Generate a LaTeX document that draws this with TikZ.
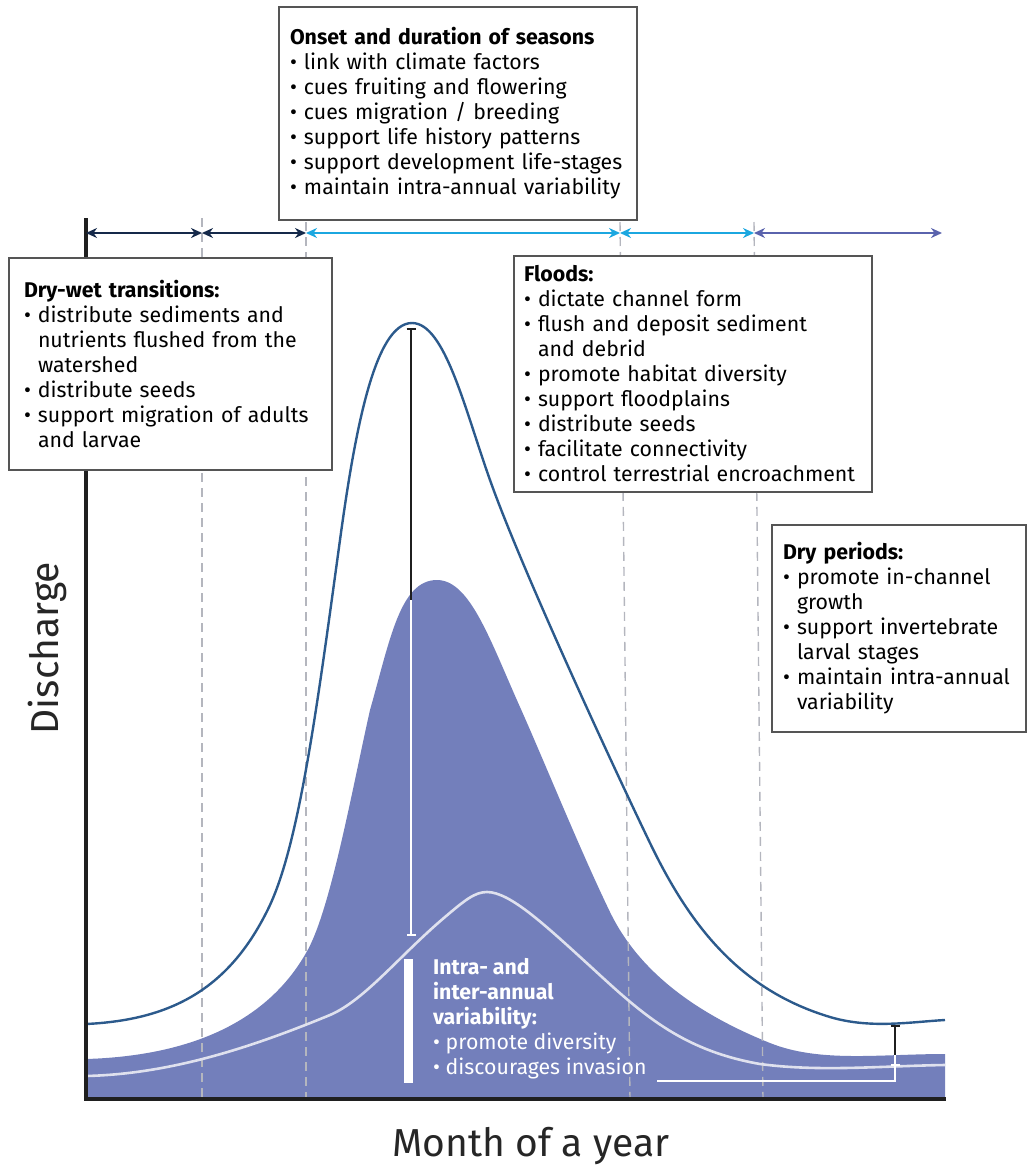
\documentclass[tikz,border=0pt]{standalone}
\usepackage{fontspec}
\setmainfont{Fira Sans}
\usetikzlibrary{arrows.meta}

\definecolor{navyarr}{HTML}{15294A}
\definecolor{cyanarr}{HTML}{1BA7E0}
\definecolor{purparr}{HTML}{5A63AD}
\definecolor{flowline}{HTML}{2C5A8C}
\definecolor{flowfill}{HTML}{737FBB}
\definecolor{lightline}{HTML}{DFE1EE}
\definecolor{boxgray}{HTML}{555555}
\definecolor{dashgray}{HTML}{B4B6BE}

\newcommand{\boxfont}{\fontsize{21.3}{25}\selectfont}
\newcommand{\bulitem}{\textbullet\ }
\newcommand{\bulgap}{\phantom{\textbullet\ }}

\tikzset{
  infobox/.style={draw=boxgray, line width=1.3pt, fill=white, align=left,
    anchor=north west, inner ysep=0pt, outer sep=0pt, font=\boxfont},
  season/.style={line width=2.4pt, <->},
  monthline/.style={dashgray, line width=1.4pt, dash pattern=on 9pt off 6pt},
  axislabel/.style={font=\fontsize{39}{42}\selectfont, text=black!85},
}

\begin{document}
\begin{tikzpicture}[x=1pt,y=-1pt,>={Stealth[length=11pt,width=10pt]},line join=miter]
\useasboundingbox (0,0) rectangle (1028,1167);
%%
  % Area: inter-annual flow
  \fill[flowfill] (86,1100) -- (86,1059)
    .. controls (185,1056) and (265,1025) .. (306,953)
    .. controls (330,913) and (352,790) .. (370,710)
    .. controls (390,640) and (400,580) .. (437,580)
    .. controls (470,580) and (490,640) .. (520,707)
    .. controls (545,763) and (580,850) .. (610,912)
    .. controls (640,974) and (700,1015) .. (770,1043)
    .. controls (820,1063) and (880,1054) .. (945,1054)
    -- (945,1100) -- cycle;
  % Month boundaries
  \draw[monthline] (202,218) -- (202,1100);
  \draw[monthline] (306,222) -- (306,1100);
  \draw[monthline] (620,222) -- (630,1100);
  \draw[monthline] (754,222) -- (763,1100);
  % Curve: wet year
  \draw[flowline, line width=2.4pt] (86,1024)
    .. controls (170,1020) and (230,990) .. (270,905)
    .. controls (300,840) and (318,700) .. (340,540)
    .. controls (355,430) and (375,323) .. (412,323)
    .. controls (445,323) and (465,410) .. (490,480)
    .. controls (520,565) and (610,760) .. (650,843)
    .. controls (690,926) and (740,990) .. (830,1017)
    .. controls (870,1029) and (910,1022) .. (945,1020);
  % Curve: dry year
  \draw[lightline, line width=2.6pt] (86,1076)
    .. controls (170,1074) and (250,1048) .. (330,1015)
    .. controls (365,1000) and (400,955) .. (445,917)
    .. controls (465,900) and (475,892) .. (487,892)
    .. controls (510,892) and (545,925) .. (590,966)
    .. controls (640,1012) and (680,1050) .. (760,1064)
    .. controls (820,1072) and (880,1066) .. (945,1065);
  % Axes
  \draw[black!88, line width=4pt] (86,218) -- (86,1099) -- (946,1099);
  % Range bars
  \coordinate (pktop) at (411,328);
  \coordinate (pkmid) at (411,600);
  \coordinate (pkbot) at (411,936);
  \draw[black!88, line width=2.2pt, {Bar[width=9pt]}-] (pktop) -- (pkmid);
  \draw[white, line width=2.2pt, -{Bar[width=9pt]}] (pkmid) -- (pkbot);
  \coordinate (lotop) at (895,1025);
  \coordinate (lomid) at (895,1055);
  \coordinate (lobot) at (895,1066);
  \coordinate (brkt) at (657,1081);
  \draw[black!88, line width=2.2pt, {Bar[width=9pt]}-] (lotop) -- (lomid);
  \draw[white, line width=2.2pt, -{Bar[width=9pt]}] (lomid) -- (lobot);
  \draw[white, line width=2pt] (brkt) -- (895,1081) -- (lobot);
  \fill[white] (404,959) rectangle (413,1083);
  % Edge: t0 -> t5
  \coordinate (t0) at (86,233);
  \coordinate (t1) at (202,233);
  \coordinate (t2) at (306,233);
  \coordinate (t3) at (620,233);
  \coordinate (t4) at (754,233);
  \coordinate (t5) at (942,233);
  \draw[season, navyarr] (t0) -- (t1);
  \draw[season, navyarr] (t1) -- (t2);
  \draw[season, cyanarr] (t2) -- (t3);
  \draw[season, cyanarr] (t3) -- (t4);
  \draw[season, purparr] (t4) -- (t5);
  % Node: onset
  \node[infobox, inner xsep=11pt, text width=336pt, minimum width=358pt, minimum height=213pt] (onset) at (279,7)
    {\textbf{Onset and duration of seasons}\\
     \bulitem link with climate factors\\
     \bulitem cues fruiting and flowering\\
     \bulitem cues migration / breeding\\
     \bulitem support life history patterns\\
     \bulitem support development life-stages\\
     \bulitem maintain intra-annual variability};
  % Node: drywet
  \node[infobox, inner xsep=15pt, text width=293pt, minimum width=323pt, minimum height=212pt] (drywet) at (9,258)
    {\textbf{Dry-wet transitions:}\\
     \bulitem distribute sediments and\\
     \bulgap nutrients flushed from the\\
     \bulgap watershed\\
     \bulitem distribute seeds\\
     \bulitem support migration of adults\\
     \bulgap and larvae};
  % Node: floods
  \node[infobox, inner xsep=10pt, text width=338pt, minimum width=358pt, minimum height=236pt] (floods) at (514,256)
    {\textbf{Floods:}\\
     \bulitem dictate channel form\\
     \bulitem flush and deposit sediment\\
     \bulgap and debrid\\
     \bulitem promote habitat diversity\\
     \bulitem support floodplains\\
     \bulitem distribute seeds\\
     \bulitem facilitate connectivity\\
     \bulitem control terrestrial encroachment};
  % Node: dry
  \node[infobox, inner xsep=11pt, text width=232pt, minimum width=254pt, minimum height=207pt] (dry) at (772,525)
    {\textbf{Dry periods:}\\
     \bulitem promote in-channel\\
     \bulgap growth\\
     \bulitem support invertebrate\\
     \bulgap larval stages\\
     \bulitem maintain intra-annual\\
     \bulgap variability};
  % Node: variab
  \node[anchor=north west, align=left, inner sep=0pt, font=\boxfont, text=white] (variab) at (433,958)
    {\textbf{Intra- and}\\
     \textbf{inter-annual}\\
     \textbf{variability:}\\
     \bulitem promote diversity\\
     \bulitem discourages invasion};
  % Node: axis labels
  \node[axislabel, rotate=90] (ylab) at (47,648) {Discharge};
  \node[axislabel] (xlab) at (531,1146) {Month of a year};
%
\end{tikzpicture}
\end{document}
